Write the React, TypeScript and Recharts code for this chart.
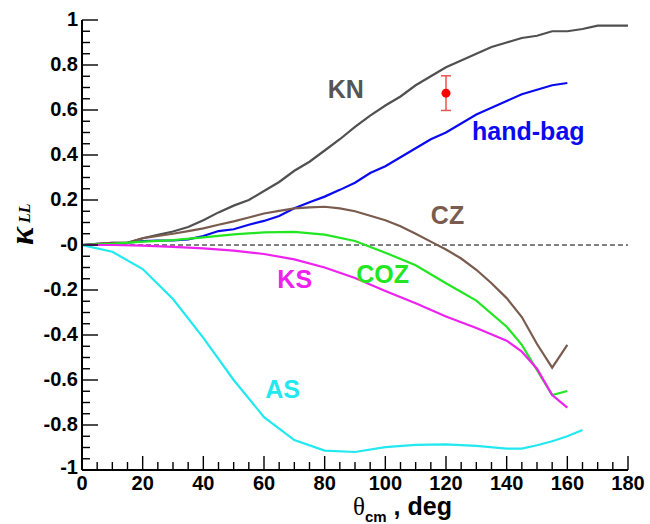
import React from "react";
import {
  ComposedChart,
  Line,
  XAxis,
  YAxis,
  ReferenceLine,
  ReferenceDot,
  Scatter,
  ErrorBar,
} from "recharts";

// theta_cm in degrees for each model curve
const thetaKN = [0, 5, 10, 15, 20, 25, 30, 35, 40, 45, 50, 55, 60, 65, 70, 75, 80, 85, 90, 95, 100, 105, 110, 115, 120, 125, 130, 135, 140, 145, 150, 155, 160, 165, 170, 175, 180];
const kn = [0, 0.005, 0.01, 0.01, 0.03, 0.045, 0.06, 0.08, 0.11, 0.145, 0.175, 0.2, 0.24, 0.28, 0.33, 0.37, 0.42, 0.47, 0.525, 0.575, 0.62, 0.66, 0.71, 0.75, 0.79, 0.82, 0.85, 0.88, 0.9, 0.92, 0.93, 0.95, 0.95, 0.96, 0.975, 0.975, 0.975];

const theta160 = [0, 5, 10, 15, 20, 25, 30, 35, 40, 45, 50, 55, 60, 65, 70, 75, 80, 85, 90, 95, 100, 105, 110, 115, 120, 125, 130, 135, 140, 145, 150, 155, 160];
const handBag = [0, 0.003, 0.005, 0.01, 0.017, 0.02, 0.02, 0.025, 0.04, 0.062, 0.07, 0.09, 0.107, 0.129, 0.163, 0.19, 0.215, 0.245, 0.277, 0.32, 0.35, 0.39, 0.43, 0.47, 0.5, 0.54, 0.58, 0.61, 0.64, 0.67, 0.69, 0.71, 0.72];
const cz = [0, 0.005, 0.01, 0.01, 0.03, 0.04, 0.05, 0.062, 0.074, 0.09, 0.105, 0.122, 0.14, 0.152, 0.163, 0.167, 0.17, 0.163, 0.15, 0.13, 0.11, 0.083, 0.05, 0.015, -0.02, -0.06, -0.11, -0.17, -0.236, -0.32, -0.44, -0.545, -0.444];

const thetaCOZ = [0, 10, 20, 30, 40, 50, 60, 70, 80, 90, 100, 110, 120, 130, 140, 145, 150, 155, 160];
const coz = [0, 0.005, 0.015, 0.022, 0.034, 0.047, 0.056, 0.058, 0.046, 0.018, -0.034, -0.09, -0.17, -0.247, -0.363, -0.444, -0.556, -0.667, -0.649];
const ks = [0, 0, -0.003, -0.008, -0.015, -0.025, -0.04, -0.064, -0.1, -0.147, -0.204, -0.259, -0.318, -0.369, -0.425, -0.474, -0.55, -0.667, -0.723];

const thetaAS = [0, 10, 20, 30, 40, 50, 60, 70, 80, 90, 100, 110, 120, 130, 140, 145, 150, 155, 160, 165];
const as = [0, -0.03, -0.107, -0.24, -0.413, -0.6, -0.765, -0.867, -0.914, -0.92, -0.898, -0.888, -0.886, -0.893, -0.905, -0.905, -0.89, -0.872, -0.85, -0.822];

// measured point
const expTheta = [120];
const expK = [0.675];
const expErr = [0.077];

const xTicks = Array.from({ length: 37 }, (_, i) => i * 5);
const yTicks = Array.from({ length: 41 }, (_, i) => Math.round((-1 + i * 0.05) * 100) / 100);

const zip = (xs: number[], ys: number[]) => xs.map((a, i) => ({ a, v: ys[i] }));

const curves = [
  { name: "KN", data: zip(thetaKN, kn), color: "#505050" },
  { name: "hand-bag", data: zip(theta160, handBag), color: "#0a0af0" },
  { name: "CZ", data: zip(theta160, cz), color: "#7a5c4e" },
  { name: "COZ", data: zip(thetaCOZ, coz), color: "#22e622" },
  { name: "KS", data: zip(thetaCOZ, ks), color: "#ee22ee" },
  { name: "AS", data: zip(thetaAS, as), color: "#22e8f0" },
];

const expData = expTheta.map((a, i) => ({ a, v: expK[i], e: expErr[i] }));

// where each curve name is written (left end of baseline, data units)
const labelSpots = [
  { text: "KN", a: 81, v: 0.652, color: "#555555" },
  { text: "hand-bag", a: 128.6, v: 0.467, color: "#0a0af0" },
  { text: "CZ", a: 115, v: 0.093, color: "#7a5c4e" },
  { text: "COZ", a: 90.4, v: -0.169, color: "#22e622" },
  { text: "KS", a: 64.4, v: -0.191, color: "#ee22ee" },
  { text: "AS", a: 60.4, v: -0.68, color: "#22e8f0" },
];

const sans = "'Liberation Sans', Arial, Helvetica, sans-serif";
const serif = "'Liberation Serif', 'Times New Roman', serif";

const isMajorX = (v: number) => v % 20 === 0;
const isMajorY = (v: number) => Math.abs(v * 5 - Math.round(v * 5)) < 1e-6;

const BottomTick = (p: any) => {
  const v = p.payload.value;
  const big = isMajorX(v);
  return (
    <g>
      <line x1={p.x} x2={p.x} y1={p.y} y2={p.y - (big ? 14 : 8)} stroke="#000" strokeWidth={1.4} />
      {big && (
        <text x={p.x} y={p.y + 20} textAnchor="middle" fontFamily={sans} fontWeight="bold" fontSize={20} fill="#000">
          {v}
        </text>
      )}
    </g>
  );
};

const TopTick = (p: any) => {
  const big = isMajorX(p.payload.value);
  return <line x1={p.x} x2={p.x} y1={p.y} y2={p.y + (big ? 14 : 8)} stroke="#000" strokeWidth={1.4} />;
};

const LeftTick = (p: any) => {
  const v = p.payload.value;
  const big = isMajorY(v);
  return (
    <g>
      <line x1={p.x} x2={p.x + (big ? 16 : 8)} y1={p.y} y2={p.y} stroke="#000" strokeWidth={1.4} />
      {big && (
        <text x={p.x - 4} y={p.y + (v === -1 ? 4 : 6)} textAnchor="end" fontFamily={sans} fontWeight="bold" fontSize={20} fill="#000">
          {v === 0 ? "-0" : v}
        </text>
      )}
    </g>
  );
};

const RightTick = (p: any) => {
  const big = isMajorY(p.payload.value);
  return <line x1={p.x} x2={p.x - (big ? 16 : 8)} y1={p.y} y2={p.y} stroke="#000" strokeWidth={1.4} />;
};

const frame = { stroke: "#000", strokeWidth: 2 };

export default function App() {
  return (
    <div style={{ position: "absolute", left: 0, top: 0, width: 650, height: 524, background: "#fff" }}>
      <ComposedChart width={650} height={524} margin={{ top: 20, right: 22, bottom: 0, left: 0 }}>
        <XAxis
          dataKey="a"
          type="number"
          domain={[0, 180]}
          allowDataOverflow
          ticks={xTicks}
          interval={0}
          height={54}
          tickSize={0}
          tickMargin={0}
          tickLine={false}
          axisLine={frame}
          tick={<BottomTick />}
        />
        <XAxis
          xAxisId="top"
          orientation="top"
          type="number"
          domain={[0, 180]}
          allowDataOverflow
          ticks={xTicks}
          interval={0}
          height={0}
          tickSize={0}
          tickMargin={0}
          tickLine={false}
          axisLine={frame}
          tick={<TopTick />}
        />
        <YAxis
          dataKey="v"
          type="number"
          domain={[-1, 1]}
          allowDataOverflow
          ticks={yTicks}
          interval={0}
          width={82}
          tickSize={0}
          tickMargin={0}
          tickLine={false}
          axisLine={frame}
          tick={<LeftTick />}
        />
        <YAxis
          yAxisId="right"
          orientation="right"
          type="number"
          domain={[-1, 1]}
          allowDataOverflow
          ticks={yTicks}
          interval={0}
          width={0}
          tickSize={0}
          tickMargin={0}
          tickLine={false}
          axisLine={frame}
          tick={<RightTick />}
        />
        <ReferenceLine y={0} stroke="#000" strokeWidth={1} strokeDasharray="5 3" />
        {curves.map((c) => (
          <Line
            key={c.name}
            data={c.data}
            dataKey="v"
            type="linear"
            stroke={c.color}
            strokeWidth={2.2}
            dot={false}
            activeDot={false}
            isAnimationActive={false}
          />
        ))}
        <Scatter
          data={expData}
          dataKey="v"
          fill="#ff0000"
          isAnimationActive={false}
          shape={(p: any) => <circle cx={p.cx} cy={p.cy} r={4.5} fill="#ff0000" />}
        >
          <ErrorBar dataKey="e" direction="y" width={5} stroke="#f05050" strokeWidth={1.5} />
        </Scatter>
        {labelSpots.map((s) => (
          <ReferenceDot
            key={s.text}
            x={s.a}
            y={s.v}
            r={0}
            shape={(p: any) => (
              <text x={p.cx} y={p.cy} fontFamily={sans} fontWeight="bold" fontSize={25} fill={s.color}>
                {s.text}
              </text>
            )}
          />
        ))}
      </ComposedChart>
      <svg width={650} height={524} style={{ position: "absolute", left: 0, top: 0, pointerEvents: "none" }}>
        <text transform="rotate(-90 33 245)" x={33} y={245} fontFamily={serif} fontStyle="italic" fontWeight="bold" fill="#000">
          <tspan fontSize={34}>κ</tspan>
          <tspan fontSize={16} dx={4} dy={-3}>LL</tspan>
        </text>
        <text x={353} y={515} fill="#000">
          <tspan fontFamily={serif} fontSize={25}>θ</tspan>
          <tspan fontFamily={sans} fontWeight="bold" fontSize={15} dy={7}>cm</tspan>
          <tspan fontFamily={sans} fontWeight="bold" fontSize={25} dy={-7}> , deg</tspan>
        </text>
      </svg>
    </div>
  );
}
